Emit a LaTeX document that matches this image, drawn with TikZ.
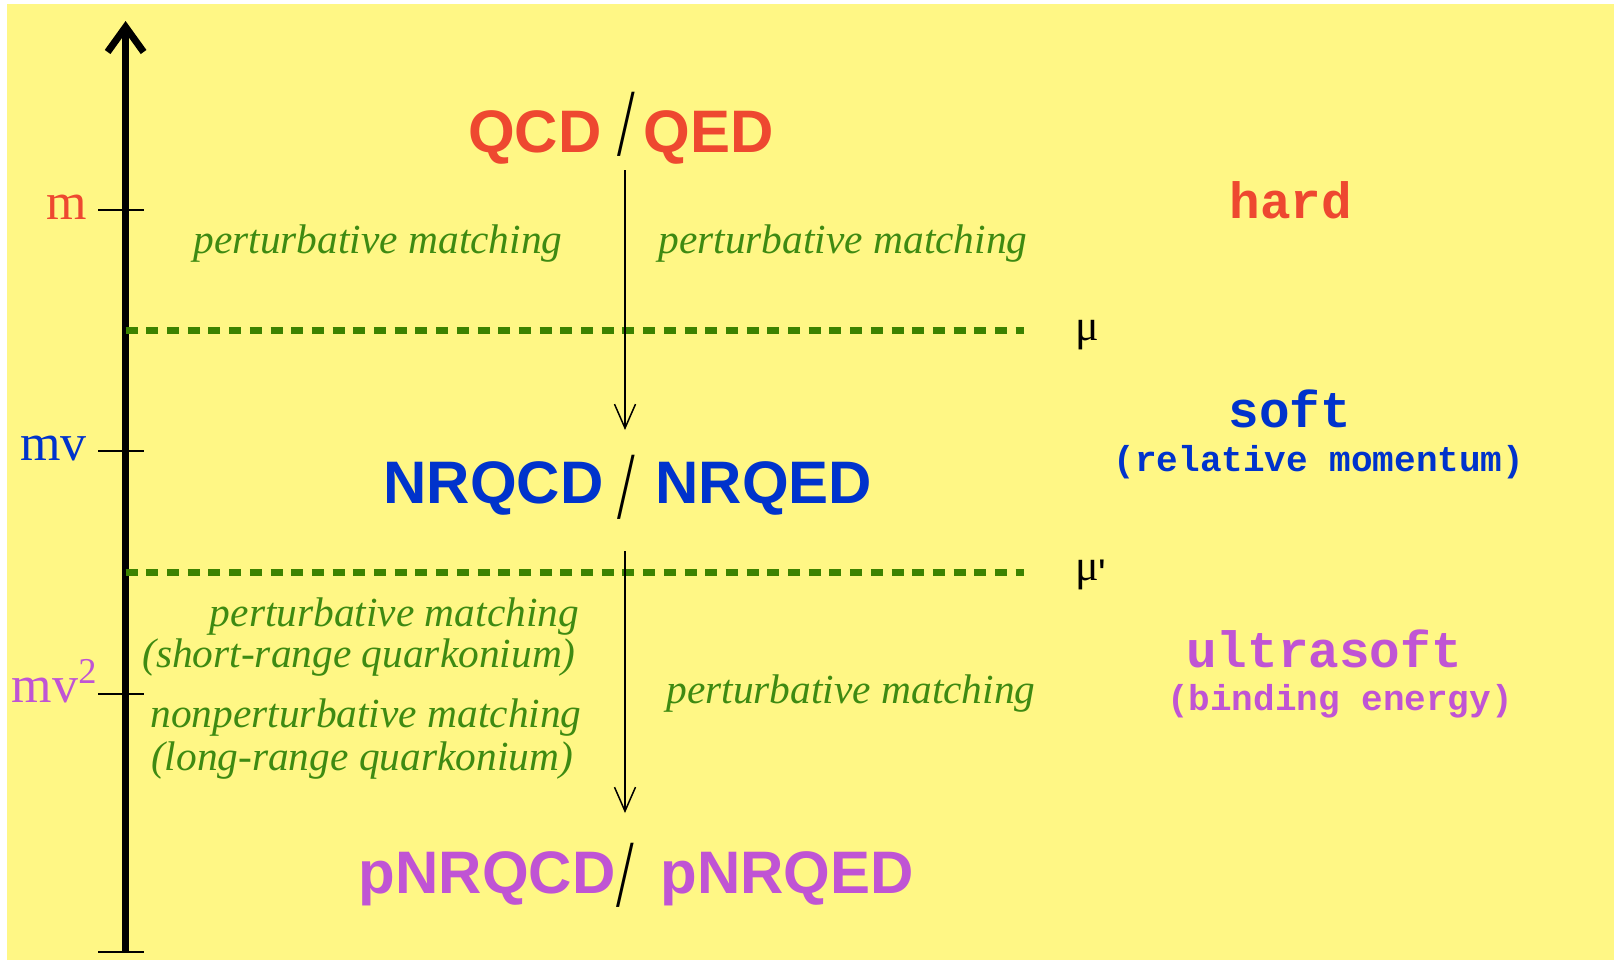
\documentclass[tikz,border=0pt]{standalone}
\usepackage{fontspec}
\setmainfont{Liberation Serif}
\newfontfamily\sansbold{Liberation Sans}
\newfontfamily\monof{Liberation Mono}
\usetikzlibrary{arrows.meta}
\definecolor{bgyellow}{RGB}{255,247,133}
\definecolor{qred}{RGB}{238,72,48}
\definecolor{qblue}{RGB}{0,51,204}
\definecolor{qpurple}{RGB}{192,84,212}
\definecolor{mgreen}{RGB}{62,138,18}
\definecolor{dgreen}{RGB}{60,130,0}
\tikzset{
 theory/.style={font=\sansbold\bfseries\fontsize{30}{30}\selectfont, inner sep=0pt},
 slashmark/.style={font=\fontsize{48}{48}\selectfont, xscale=0.66, inner sep=0pt},
 match/.style={font=\itshape\fontsize{20.7}{20.7}\selectfont, text=mgreen, inner sep=0pt, anchor=base},
 scalelab/.style={font=\fontsize{26}{26}\selectfont, inner sep=0pt, anchor=base east},
 regime/.style={font=\monof\bfseries\fontsize{25.5}{25.5}\selectfont, inner sep=0pt, anchor=base},
 regsub/.style={font=\monof\bfseries\fontsize{18}{18}\selectfont, inner sep=0pt, anchor=base},
 mulab/.style={font=\fontsize{22}{22}\selectfont, inner sep=0pt, anchor=base west},
 sepline/.style={dgreen, line width=3.5pt, dash pattern=on 6pt off 4.35pt},
 tickline/.style={line width=0.7pt},
 flow/.style={line width=0.75pt, -{Straight Barb[length=12pt,width=10.5pt]}},
 axisline/.style={line width=3.5pt, -{Straight Barb[length=12.5pt,width=18pt]}},
}
\begin{document}
\begin{tikzpicture}[x=0.5pt,y=-0.5pt]
\useasboundingbox (0,0) rectangle (1614,960);
\fill[bgyellow] (7,4) rectangle (1614,960);

% axis
\coordinate (axb) at (125.6,952);
\coordinate (axt) at (125.6,21);
\draw[axisline] (axb) -- (axt);
% ticks
\coordinate (tm1) at (98,210);  \coordinate (tm2) at (144,210);
\coordinate (tv1) at (98,451);  \coordinate (tv2) at (144,451);
\coordinate (tw1) at (98,694);  \coordinate (tw2) at (144,694);
\coordinate (tb1) at (98,952);  \coordinate (tb2) at (144,952);
\draw[tickline] (tm1) -- (tm2);
\draw[tickline] (tv1) -- (tv2);
\draw[tickline] (tw1) -- (tw2);
\draw[tickline] (tb1) -- (tb2);
\node[scalelab, text=qred] (lm) at (87,219) {m};
\node[scalelab, text=qblue] (lmv) at (87,460) {mv};
\node[scalelab, text=qpurple] (lmv2) at (98,702) {mv\textsuperscript{2}};

% separators
\coordinate (s1a) at (125.6,330); \coordinate (s1b) at (1024,330);
\coordinate (s2a) at (125.6,572); \coordinate (s2b) at (1024,572);
\draw[sepline] (s1a) -- (s1b);
\draw[sepline] (s2a) -- (s2b);
\node[mulab] (mu1) at (1075,340) {μ};
\node[mulab] (mu2) at (1075,580) {μ\raisebox{-0.18em}{\sansbold\fontsize{20}{20}\selectfont\textquotesingle}};

% theories
\node[theory, text=qred, anchor=base east] (qcd) at (602,152) {QCD};
\node[slashmark] (sl1) at (626,124) {/};
\node[theory, text=qred, anchor=base west] (qed) at (643,152) {QED};
\node[theory, text=qblue, anchor=base east] (nrqcd) at (604,503) {NRQCD};
\node[slashmark] (sl2) at (626,487) {/};
\node[theory, text=qblue, anchor=base west] (nrqed) at (655,503) {NRQED};
\node[theory, text=qpurple, anchor=base east] (pnrqcd) at (616,893) {pNRQCD};
\node[slashmark] (sl3) at (625.5,875.5) {/};
\node[theory, text=qpurple, anchor=base west] (pnrqed) at (660,893) {pNRQED};

% flow arrows
\coordinate (f1a) at (625,170); \coordinate (f1b) at (625,430);
\coordinate (f2a) at (625,551); \coordinate (f2b) at (625,813);
\draw[flow] (f1a) -- (f1b);
\draw[flow] (f2a) -- (f2b);

% matching labels
\node[match] (pm1) at (378,253) {perturbative matching};
\node[match] (pm2) at (843,253) {perturbative matching};
\node[match] (pm3) at (394.5,626) {perturbative matching};
\node[match] (sr) at (359,667) {(short-range quarkonium)};
\node[match] (npm) at (366,727) {nonperturbative matching};
\node[match] (lr) at (362,770) {(long-range quarkonium)};
\node[match] (pm4) at (851,703) {perturbative matching};

% regimes
\node[regime, text=qred] (hard) at (1291,218) {hard};
\node[regime, text=qblue] (soft) at (1290,427) {soft};
\node[regsub, text=qblue] (relmom) at (1319,471) {(relative momentum)};
\node[regime, text=qpurple] (usoft) at (1324,667) {ultrasoft};
\node[regsub, text=qpurple] (bind) at (1340,710) {(binding energy)};
\end{tikzpicture}
\end{document}
